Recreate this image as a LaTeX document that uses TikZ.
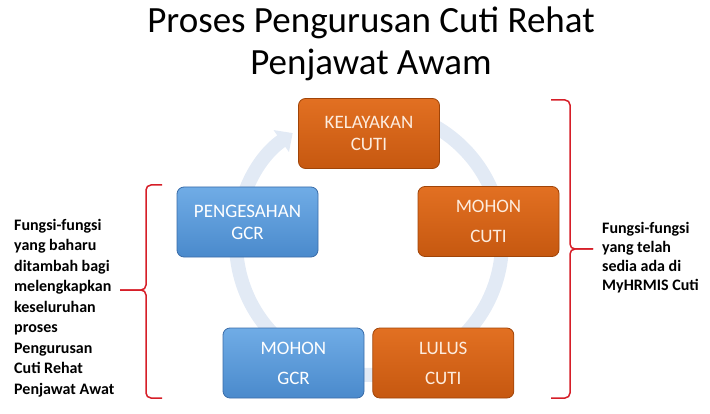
\documentclass[tikz,border=0pt]{standalone}
\usepackage{fontspec}
\setmainfont{Carlito}
\usepackage{xcolor}
\usepackage{tikz}
\usetikzlibrary{arrows.meta, positioning, calc}
\definecolor{cutitop}{RGB}{226,112,34}
\definecolor{cutibot}{RGB}{198,88,16}
\definecolor{cutiedge}{RGB}{160,68,8}
\definecolor{cutitext}{RGB}{253,236,222}
\definecolor{gcrtop}{RGB}{112,172,230}
\definecolor{gcrbot}{RGB}{74,138,204}
\definecolor{gcredge}{RGB}{58,108,168}
\definecolor{ringblue}{RGB}{226,234,245}
\definecolor{bracered}{RGB}{214,30,40}
\tikzstyle{stage}   = [rectangle, rounded corners=7pt, minimum width=141pt,
                       minimum height=70pt, line width=0.8pt, align=center,
                       font=\fontsize{19}{22}\selectfont]
\tikzstyle{cuti}    = [stage, draw=cutiedge, top color=cutitop, bottom color=cutibot, text=cutitext]
\tikzstyle{gcr}     = [stage, draw=gcredge, top color=gcrtop, bottom color=gcrbot, text=white]
\tikzstyle{ring}    = [line width=14pt, draw=ringblue, -{Triangle[width=26pt,length=14pt]}]
\tikzstyle{bracket} = [draw=bracered, line width=1.5pt, rounded corners=5pt]
\tikzstyle{note}    = [align=left, inner sep=0pt, anchor=west]

\begin{document}
\begin{tikzpicture}[x=1pt, y=1pt]
  \useasboundingbox (0,0) rectangle (710,413);

  % Title
  \node[font=\fontsize{37}{42}\selectfont, align=center] (title) at (371,369)
    {Proses Pengurusan Cuti Rehat\\Penjawat Awam};

  % Cycle ring
  \coordinate (ctr) at (369,171);
  \draw[ring] ($(ctr)+(95:133)$) arc[start angle=95, end angle=-235, radius=133];

  % Stages
  \node[cuti] (kelayakan)  at (369,279.5)   {KELAYAKAN\\CUTI};
  \node[cuti] (mohoncuti)  at (488.5,191.5) {MOHON\\[8pt]CUTI};
  \node[gcr]  (pengesahan) at (247.5,191)   {PENGESAHAN\\GCR};
  \node[gcr]  (mohongcr)   at (293.5,50)    {MOHON\\[8pt]GCR};
  \node[cuti, right=8pt of mohongcr] (lulus) {LULUS\\[8pt]CUTI};

  % Left bracket - new functions
  \coordinate (ltip) at (120,123);
  \draw[bracket] (162,228) -- (146,228) -- (146,123) -- (ltip);
  \draw[bracket] (162,15) -- (146,15) -- (146,123) -- (ltip);
  \node[note, font=\bfseries\fontsize{16}{20.5}\selectfont] (baru) at (14,105)
    {Fungsi-fungsi\\yang baharu\\ditambah bagi\\melengkapkan\\keseluruhan\\proses\\Pengurusan\\Cuti Rehat\\Penjawat Awat};

  % Right bracket - existing functions
  \coordinate (rtip) at (593,164);
  \draw[bracket] (551,313) -- (570,313) -- (570,164) -- (rtip);
  \draw[bracket] (551,15) -- (570,15) -- (570,164) -- (rtip);
  \node[note, font=\bfseries\fontsize{16}{19}\selectfont] (sedia) at (602,155)
    {Fungsi-fungsi\\yang telah\\sedia ada di\\MyHRMIS Cuti};
\end{tikzpicture}
\end{document}
